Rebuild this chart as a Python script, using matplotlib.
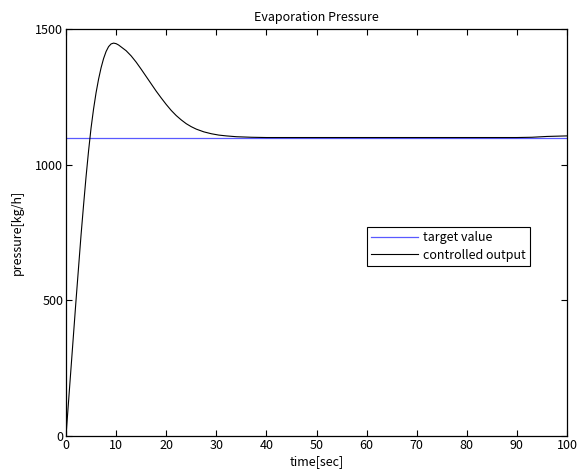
import matplotlib
matplotlib.use("Agg")
import matplotlib.pyplot as plt
import numpy as np

plt.rcParams['font.family'] = ['Noto Sans CJK JP', 'DejaVu Sans']

# data
time_sec = [0, 1, 2, 3, 3.5, 4, 4.5, 5, 5.5, 6, 6.5, 7, 7.5, 8, 8.5, 9, 9.5, 10, 10.5,
            11, 12, 13, 14, 15, 16, 17, 18, 19, 20, 21, 22, 23, 24, 25, 26, 27.5, 29,
            30.5, 32, 34, 37, 40, 50, 60, 70, 80, 90, 93, 96, 100]
controlled_output = [0, 250, 500, 740, 850, 955, 1050, 1135, 1205, 1265, 1315, 1357, 1391,
                     1417, 1435, 1445, 1448, 1446, 1441, 1434, 1420, 1401, 1378, 1352, 1325,
                     1298, 1271, 1246, 1222, 1200, 1181, 1165, 1151, 1140, 1131, 1121, 1114,
                     1109, 1106, 1103, 1101, 1100, 1100, 1100, 1100, 1100, 1100, 1101,
                     1104, 1106]
target_time = [0, 100]
target_value = [1100, 1100]

x_ticks = [0, 10, 20, 30, 40, 50, 60, 70, 80, 90, 100]
y_ticks = [0, 500, 1000, 1500]

fig = plt.figure(figsize=(5.84, 4.75), dpi=100)
ax = fig.add_axes([66/584, 39/475, (567-66)/584, (436-29)/475])

ax.plot(target_time, target_value, color=(0.35, 0.35, 1.0), lw=0.9, label='target value')
ax.plot(time_sec, controlled_output, color='black', lw=0.8, label='controlled output')

ax.set_xlim(0, 100)
ax.set_ylim(0, 1500)
ax.set_xticks(x_ticks)
ax.set_yticks(y_ticks)
ax.tick_params(direction='in', top=True, right=True, length=4, width=0.8,
               labelsize=9, pad=2)
for s in ax.spines.values():
    s.set_linewidth(0.9)

ax.set_title('Evaporation Pressure', fontsize=9, pad=6)
ax.set_xlabel('time[sec]', fontsize=9, labelpad=2)
ax.set_ylabel('pressure[kg/h]', fontsize=9, labelpad=8)

leg = ax.legend(loc='upper left', bbox_to_anchor=(0.601, 0.514), borderaxespad=0,
                fontsize=9, fancybox=False, framealpha=1, edgecolor='black',
                handlelength=3.7, handletextpad=0.4, borderpad=0.35, labelspacing=0.35)
leg.get_frame().set_linewidth(0.8)

fig.savefig('out.png', dpi=100)
